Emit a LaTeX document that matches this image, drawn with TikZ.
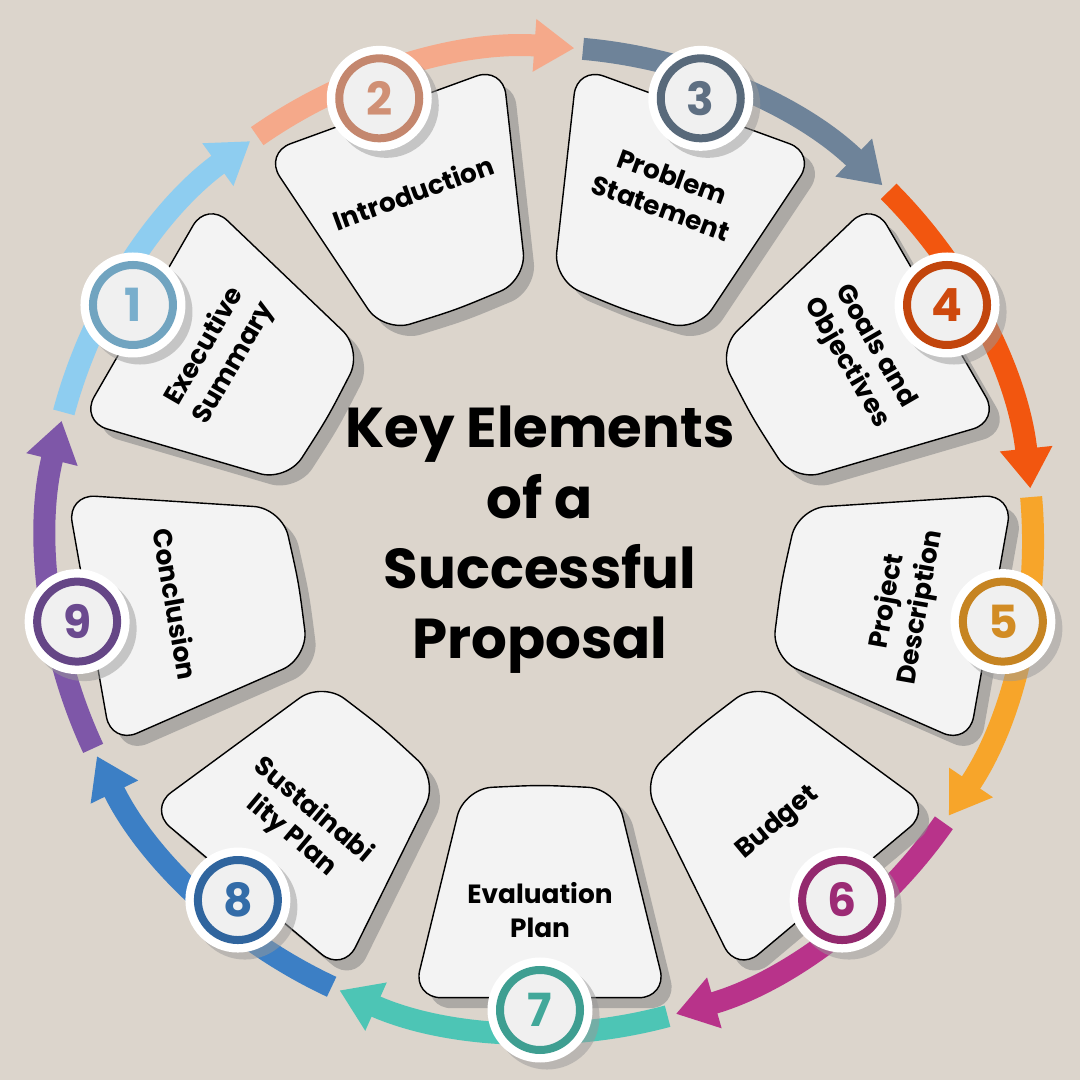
\documentclass[tikz,border=0pt]{standalone}
\usepackage{fontspec}
\setmainfont{Poppins}
\usetikzlibrary{arrows.meta, shadows, calc}
\definecolor{bg}{HTML}{DCD5CC}
\definecolor{cardfill}{HTML}{F3F3F3}
\definecolor{cA}{HTML}{8ECDF0}
\definecolor{cB}{HTML}{F5A98A}
\definecolor{cC}{HTML}{6E8399}
\definecolor{cD}{HTML}{F2560F}
\definecolor{cE}{HTML}{F7A52A}
\definecolor{cF}{HTML}{B8338A}
\definecolor{cG}{HTML}{4DC5B5}
\definecolor{cH}{HTML}{3C7FC5}
\definecolor{cI}{HTML}{7E57A8}
\tikzset{
	card/.style={fill=cardfill, rounded corners=8pt,
		drop shadow={shadow xshift=3pt, shadow yshift=-3pt, fill=black!45, opacity=.6}},
	lbl/.style={font=\bfseries\fontsize{7.5}{9.5}\selectfont, align=center, text=black},
	numdisc/.style={circle, fill=white, minimum size=1.05cm,
		drop shadow={shadow xshift=2pt, shadow yshift=-2pt, fill=black!40, opacity=.5}},
}
\begin{document}
\begin{tikzpicture}[x=1cm,y=1cm]
	\fill[bg] (0,0) rectangle (10.8,10.8);
	\useasboundingbox (0,0) rectangle (10.8,10.8);
	\coordinate (c) at (5.4,5.4);
	% ring of arrows
	\foreach \a/\col in {150/cA,110/cB,70/cC,30/cD,-10/cE,-50/cF,-90/cG,-130/cH,-170/cI}{
		\draw[\col, line width=0.22cm, -{Triangle[width=0.5cm,length=0.4cm]}]
			($(c)+(\a+15:4.93)$) arc[start angle=\a+15, end angle=\a-24, radius=4.93];
	}
	% cards
	\foreach \a/\n/\col/\txt/\r in {
		150/1/cA/{Executive\\Summary}/60,
		110/2/cB/{Introduction}/20,
		70/3/cC/{Problem\\Statement}/-20,
		30/4/cD/{Goals and\\Objectives}/-60,
		-10/5/cE/{Project\\Description}/80,
		-50/6/cF/{Budget}/40,
		-90/7/cG/{Evaluation\\Plan}/0,
		-130/8/cH/{Sustainabi\\lity Plan}/-40,
		-170/9/cI/{Conclusion}/-80}{
		\draw[card] ($(c)+(\a+15.5:4.75)$) -- ($(c)+(\a-15.5:4.75)$)
			-- ($(c)+(\a-17:2.6)$)
			.. controls ($(c)+(\a:2.45)$) .. ($(c)+(\a+17:2.6)$) -- cycle;
		\node[lbl, rotate=\r] (card\n) at ($(c)+(\a:3.7)$) {\txt};
		\node[numdisc] (num\n) at ($(c)+(\a:4.7)$) {};
		\draw[\col!80!black, line width=0.08cm, fill=black!6] (num\n) circle (0.4);
		\node[text=\col!85!black, font=\bfseries\fontsize{13}{13}\selectfont] at (num\n) {\n};
	}
	\node[font=\bfseries\fontsize{16}{20}\selectfont, align=center] (title) at (c)
		{Key Elements\\of a\\Successful\\Proposal};
\end{tikzpicture}
\end{document}
